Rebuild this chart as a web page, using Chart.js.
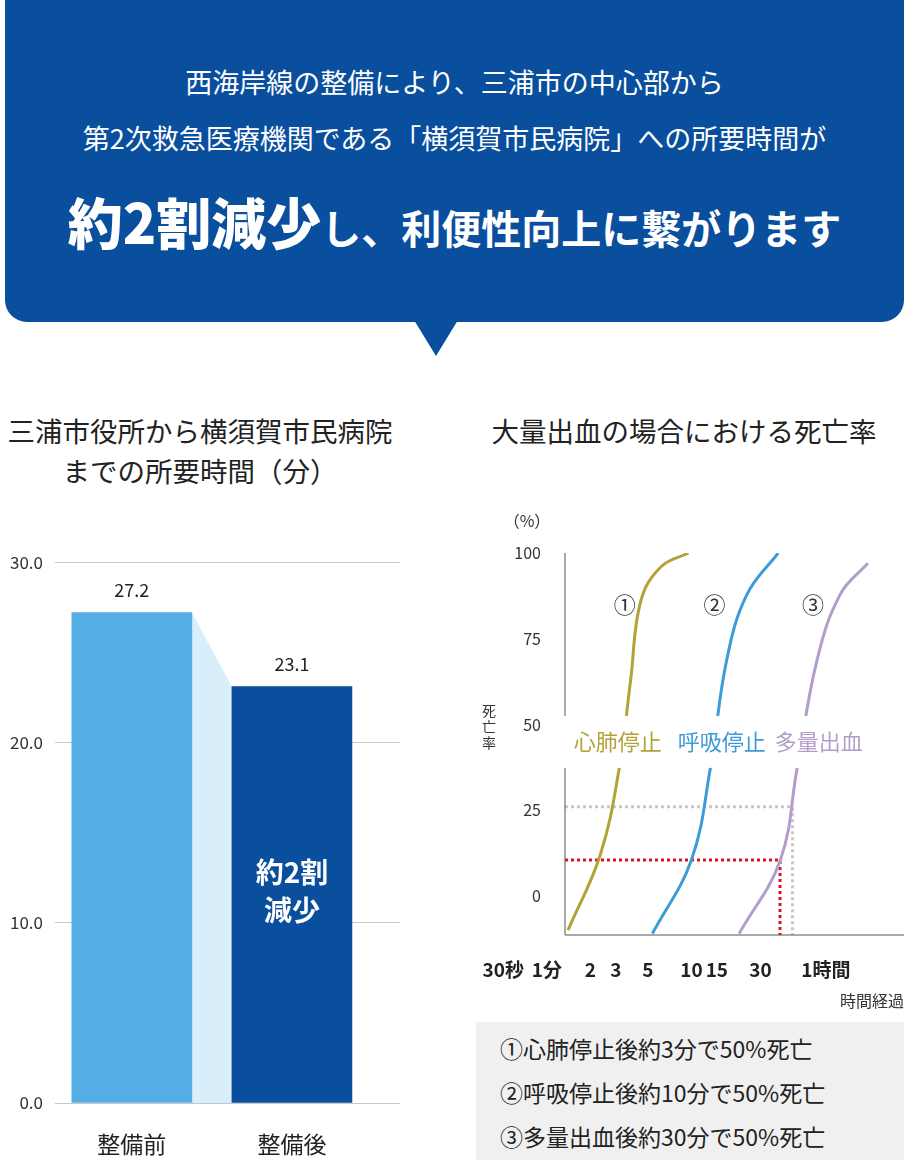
<!DOCTYPE html>
<html><head><meta charset="utf-8">
<script src="https://cdn.jsdelivr.net/npm/chart.js@4"></script>
<style>
body{margin:0;width:904px;height:1160px;position:relative;background:#fff;font-family:"Noto Sans CJK JP",sans-serif;overflow:hidden}
.banner{position:absolute;left:5px;top:0;width:899px;height:322px;background:#0a4f9e;border-radius:0 0 22px 22px;color:#fff;text-align:center}
.tri{position:absolute;left:414px;top:320px;width:0;height:0;border-left:22px solid transparent;border-right:22px solid transparent;border-top:36px solid #0a4f9e}
.l1{position:absolute;top:62px;width:100%;font-size:27px}
.l2{position:absolute;top:118px;width:100%;font-size:27px}
.l3{position:absolute;top:180px;width:100%;font-weight:bold;font-size:40px}
.l3 b{font-size:55px}
.t{position:absolute;font-size:27.5px;color:#222;text-align:center;line-height:40px}
canvas{position:absolute}
.box{position:absolute;left:476px;top:1022px;width:428px;height:138px;background:#f0f0f0;font-size:23px;color:#222;line-height:44px;padding:4px 0 0 24px;box-sizing:border-box}
</style></head><body>
<div class="banner">
<div class="l1">西海岸線の整備により、三浦市の中心部から</div>
<div class="l2">第2次救急医療機関である「横須賀市民病院」への所要時間が</div>
<div class="l3"><b>約2割減少</b>し、利便性向上に繋がります</div>
</div>
<div class="tri"></div>
<div class="t" style="left:0;top:410px;width:400px">三浦市役所から横須賀市民病院<br>までの所要時間（分）</div>
<div class="t" style="left:482px;top:410px;width:404px">大量出血の場合における死亡率</div>
<canvas id="barChart" style="left:0;top:540px;width:410px;height:620px" width="410" height="620"></canvas>
<canvas id="lineChart" style="left:470px;top:500px;width:434px;height:515px" width="434" height="515"></canvas>
<div class="box">①心肺停止後約3分で50%死亡<br>②呼吸停止後約10分で50%死亡<br>③多量出血後約30分で50%死亡</div>
<script>
// 所要時間（分）
const barLabels = ["整備前","整備後"];
const barValues = [27.2, 23.1];
const barColors = ["#55ade5","#0a4f9e"];

// 死亡率カーブ（x = log10(分)）
const curveNames = ["心肺停止","呼吸停止","多量出血"];
const curveColors = ["#b3a237","#3c9bd9","#b29dcb"];
const curve1 = [{x:0.147,y:-10},{x:0.37,y:12},{x:0.5,y:37},{x:0.58,y:63},{x:0.65,y:86},{x:0.79,y:96},{x:0.98,y:100}];
const curve2 = [{x:0.73,y:-11},{x:1.0,y:10.5},{x:1.13,y:37},{x:1.245,y:69},{x:1.385,y:88},{x:1.6,y:100}];
const curve3 = [{x:1.33,y:-11},{x:1.615,y:10.5},{x:1.73,y:37},{x:1.87,y:69},{x:2.03,y:88},{x:2.22,y:97}];
const timeTicks = [["30秒",0.5],["1分",1],["2",2],["3",3],["5",5],["10",10],["15",15],["30",30],["1時間",60]];
const yTicks = [0,25,50,75,100];
const greyGuide = {y:26, x:50};
const redGuide = {y:10.5, x:41};

const FONT = '"Noto Sans CJK JP",sans-serif';
Chart.defaults.font.family = FONT;

// --- 棒グラフ ---
const barPlugin = {
  id:"barExtras",
  beforeDatasetsDraw(c){
    const y=c.scales.y, ctx=c.ctx;
    const b1=c.getDatasetMeta(0).data[0], b2=c.getDatasetMeta(0).data[1];
    ctx.save(); ctx.fillStyle="#d8eefb";
    ctx.beginPath();
    ctx.moveTo(b1.x+b1.width/2, y.getPixelForValue(barValues[0]));
    ctx.lineTo(b2.x-b2.width/2, y.getPixelForValue(barValues[1]));
    ctx.lineTo(b2.x-b2.width/2, y.getPixelForValue(0));
    ctx.lineTo(b1.x+b1.width/2, y.getPixelForValue(0));
    ctx.fill(); ctx.restore();
  },
  afterDatasetsDraw(c){
    const ctx=c.ctx, y=c.scales.y;
    const els=c.getDatasetMeta(0).data;
    ctx.save(); ctx.textAlign="center";
    ctx.fillStyle="#222"; ctx.font="18px "+FONT;
    els.forEach((e,i)=>ctx.fillText(barValues[i].toFixed(1), e.x, e.y-16));
    ctx.font="23px "+FONT;
    els.forEach((e,i)=>ctx.fillText(barLabels[i], e.x, y.getPixelForValue(0)+50));
    ctx.fillStyle="#fff"; ctx.font="bold 28px "+FONT;
    ctx.fillText("約2割", els[1].x, y.getPixelForValue(12.2));
    ctx.fillText("減少", els[1].x, y.getPixelForValue(10.1));
    ctx.restore();
  }
};
new Chart(document.getElementById("barChart"),{
  type:"bar",
  data:{datasets:[{data:barValues.map((v,i)=>({x:i,y:v})),backgroundColor:barColors,barThickness:120}]},
  options:{
    responsive:false,animation:false,
    layout:{padding:{top:10,right:10}},
    plugins:{legend:{display:false},tooltip:{enabled:false}},
    scales:{
      x:{type:"linear",offset:false,min:-0.48,max:1.675,grid:{display:false},border:{display:false},ticks:{display:false},afterFit(s){s.height=57;}},
      y:{min:0,max:30,ticks:{stepSize:10,callback:v=>v.toFixed(1),color:"#333",font:{size:17},padding:12},
         grid:{color:"#c8c8c8",drawTicks:false},border:{display:false},afterFit(s){s.width=55;}}
    }
  },
  plugins:[barPlugin]
});

// --- 死亡率グラフ ---
const linePlugin = {
  id:"lineExtras",
  beforeDatasetsDraw(c){
    const x=c.scales.x, y=c.scales.y, ctx=c.ctx, a=c.chartArea;
    ctx.save(); ctx.lineWidth=3; ctx.setLineDash([3,3]);
    [[greyGuide,"#c8c8c8"],[redGuide,"#e0141e"]].forEach(([g,col])=>{
      const gx=x.getPixelForValue(Math.log10(g.x)), gy=y.getPixelForValue(g.y);
      ctx.strokeStyle=col; ctx.beginPath();
      ctx.moveTo(a.left,gy); ctx.lineTo(gx,gy); ctx.lineTo(gx,a.bottom); ctx.stroke();
    });
    ctx.restore();
  },
  afterDatasetsDraw(c){
    const x=c.scales.x, y=c.scales.y, ctx=c.ctx, a=c.chartArea;
    ctx.save();
    ctx.strokeStyle="#555"; ctx.lineWidth=1;
    ctx.beginPath(); ctx.moveTo(a.left,a.top); ctx.lineTo(a.left,a.bottom); ctx.lineTo(a.right,a.bottom); ctx.stroke();
    // 凡例（白地）
    ctx.fillStyle="#fff"; ctx.fillRect(a.left-2, y.getPixelForValue(52.5), a.right-a.left+2, 52);
    ctx.font="22px "+FONT; ctx.textAlign="center"; ctx.textBaseline="middle";
    const lx=[0.49,1.21,1.88];
    curveNames.forEach((n,i)=>{ctx.fillStyle=curveColors[i]; ctx.fillText(n, x.getPixelForValue(lx[i]), y.getPixelForValue(45));});
    ctx.fillStyle="#333"; ctx.font="22px "+FONT;
    ["①","②","③"].forEach((s,i)=>ctx.fillText(s, x.getPixelForValue([0.54,1.16,1.84][i]), y.getPixelForValue(85)));
    ctx.font="bold 19px "+FONT; ctx.fillStyle="#222";
    timeTicks.forEach(([t,m])=>ctx.fillText(t, x.getPixelForValue(Math.log10(m)) + (m===60?22:0), a.bottom+35));
    ctx.font="16px "+FONT; ctx.textAlign="right"; ctx.fillStyle="#333";
    ctx.fillText("時間経過", a.right, a.bottom+66);
    ctx.textAlign="center"; ctx.font="16px "+FONT;
    ctx.fillText("（%）", a.left-38, a.top-32);
    ctx.font="14px "+FONT;
    ["死","亡","率"].forEach((s,i)=>ctx.fillText(s, a.left-76, y.getPixelForValue(54)+i*16));
    ctx.restore();
  }
};
new Chart(document.getElementById("lineChart"),{
  type:"line",
  data:{datasets:[curve1,curve2,curve3].map((d,i)=>({data:d,borderColor:curveColors[i],borderWidth:3,pointRadius:0,tension:0.4}))},
  options:{
    responsive:false,animation:false,
    layout:{padding:{top:53,right:0}},
    plugins:{legend:{display:false},tooltip:{enabled:false}},
    scales:{
      x:{type:"linear",min:0.126,max:2.47,grid:{display:false},border:{display:false},ticks:{display:false},afterFit(s){s.height=80;}},
      y:{min:-11.4,max:100,afterBuildTicks(s){s.ticks=yTicks.map(v=>({value:v}));},
         ticks:{color:"#333",font:{size:16},padding:16},grid:{display:false},border:{display:false},afterFit(s){s.width=95;}}
    }
  },
  plugins:[linePlugin]
});
</script>
</body></html>
